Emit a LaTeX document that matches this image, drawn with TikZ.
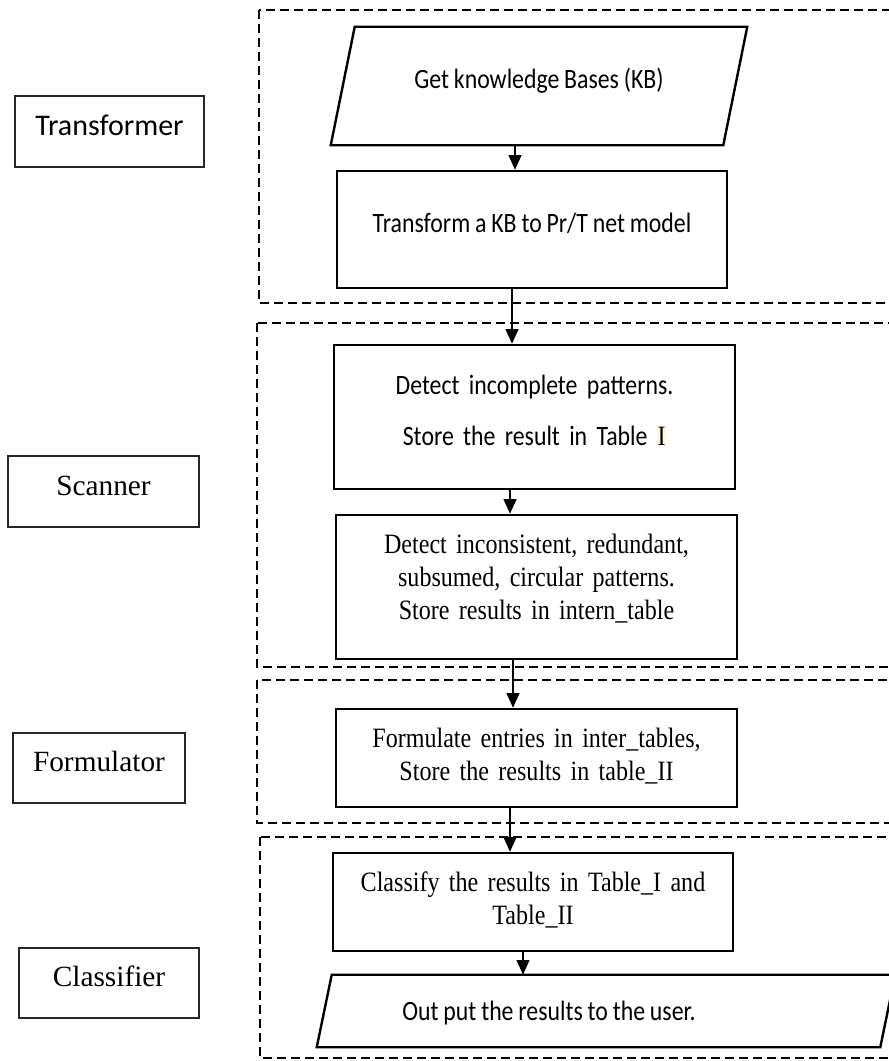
\documentclass[tikz,border=0pt]{standalone}
\usepackage{fontspec}
\usetikzlibrary{arrows.meta}
\newfontfamily\calfont{Carlito}
\newfontfamily\calnarrow[FakeStretch=0.85,WordSpace=0.9]{Carlito}
\newfontfamily\tnrfont{Liberation Serif}
\newfontfamily\tnrnarrow[FakeStretch=0.86,WordSpace=0.8]{Liberation Serif}
\definecolor{hilite}{RGB}{255,247,230}
\begin{document}
\begin{tikzpicture}[x=0.75pt,y=-0.75pt,
	grp/.style={dash pattern=on 6.5pt off 4pt, line width=1.5pt},
	side/.style={draw=black!85, line width=1pt, inner sep=0pt, text height=14pt, text depth=8.75pt},
	stage/.style={draw, line width=1.8pt, inner sep=0pt, align=center},
	io/.style={inner sep=0pt},
	sansf/.style={font=\calnarrow\fontsize{21}{25}\selectfont},
	serf/.style={font=\tnrnarrow\fontsize{21}{25.1}\selectfont},
	arr/.style={line width=1.5pt, -{Triangle[length=11pt,width=9.5pt]}}]
	\clip (0,0) rectangle (889,1061);
	\foreach \l/\t/\b in {259/10/303, 257/323/667, 257/680/823, 260/837/1058}
		\draw[grp] (\l,\t) rectangle (905,\b);

	\node[side, minimum width=141.75pt, minimum height=53.25pt, font=\calfont\fontsize{22.5}{26}\selectfont] at (109.5,131.5) (transformer) {Transformer};
	\node[side, minimum width=143.25pt, minimum height=53.25pt, font=\tnrfont\fontsize{22}{26}\selectfont] at (103.5,491.5) (scanner) {Scanner};
	\node[side, minimum width=129pt, minimum height=52.5pt, font=\tnrfont\fontsize{22}{26}\selectfont] at (99,768) (formulator) {Formulator};
	\node[side, minimum width=135pt, minimum height=52.5pt, font=\tnrfont\fontsize{22}{26}\selectfont] at (109,983) (classifier) {Classifier};

	\node[io, sansf, minimum width=294pt, minimum height=88.5pt, text height=14pt, text depth=11pt] at (539,86) (getkb) {Get knowledge Bases (KB)};
	\node[stage, sansf, minimum width=292.5pt, minimum height=87.75pt, text height=14pt, text depth=9.8pt] at (532,229.5) (topetri) {Transform a KB to Pr/T net model};
	\node[stage, sansf, minimum width=300.75pt, minimum height=108pt, text width=290pt, text height=14pt, text depth=48.5pt] at (534.5,417) (incomplete) {Detect incomplete patterns.\\[13.3pt]Store the result in Table {\tnrnarrow\setlength{\fboxsep}{0.5pt}\colorbox{hilite}{I}}};
	\node[stage, serf, minimum width=300.75pt, minimum height=108pt, text width=290pt, text height=14pt, text depth=65pt] at (536.5,587) (inconsistent) {Detect inconsistent, redundant,\\subsumed, circular patterns.\\Store results in intern\_table};
	\node[stage, serf, minimum width=300.75pt, minimum height=73.5pt, text width=290pt, text height=14pt, text depth=30.5pt] at (536.5,758) (formulate) {Formulate entries in inter\_tables,\\Store the results in table\_II};
	\node[stage, serf, minimum width=300pt, minimum height=73.5pt, text width=290pt, text height=14pt, text depth=30.5pt] at (533,902) (classify) {Classify the results in Table\_I and\\Table\_II};
	\node[io, sansf, minimum width=422.25pt, minimum height=54pt, text height=14pt, text depth=0.5pt] at (606,1011) (output) {Out put the results to the user.\hspace*{85.5pt}};

	\foreach \n/\s in {getkb/9pt, output/5.625pt}
		\draw[line width=1.8pt] ([xshift=\s]\n.north west) -- ([xshift=\s]\n.north east) -- ([xshift=-\s]\n.south east) -- ([xshift=-\s]\n.south west) -- cycle;

	\foreach \a/\b/\x in {getkb/topetri/515, topetri/incomplete/512, incomplete/inconsistent/510, inconsistent/formulate/513, formulate/classify/510, classify/output/523}
		\draw[arr] (\x,0 |- \a.south) -- (\x,0 |- \b.north);
\end{tikzpicture}
\end{document}
